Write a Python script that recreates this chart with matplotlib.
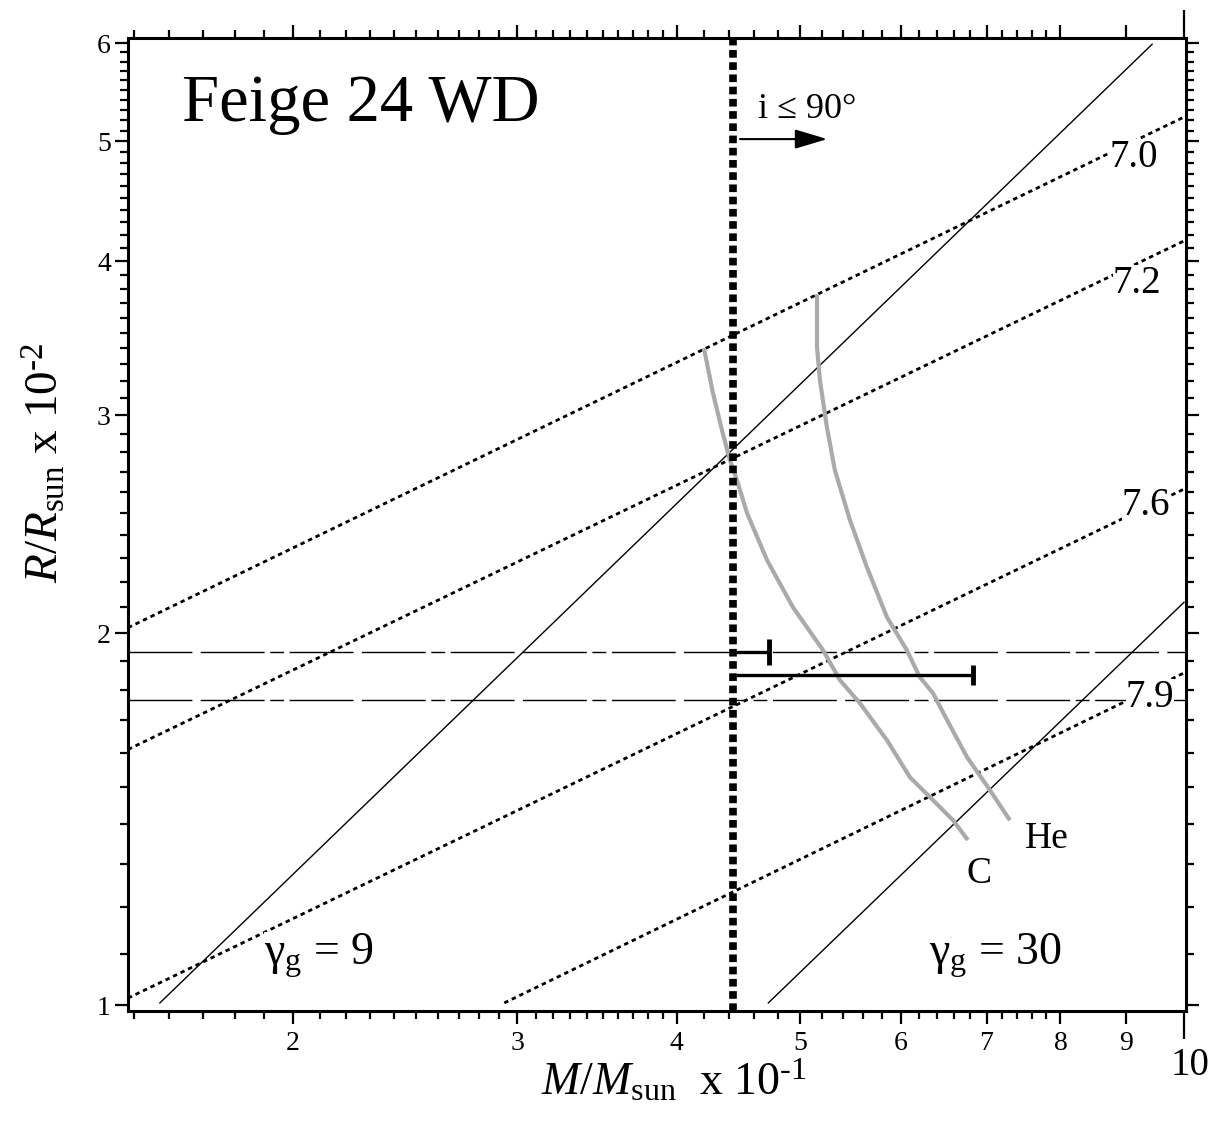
#!/usr/bin/env python3
import numpy as np
import matplotlib
matplotlib.use("Agg")
import matplotlib.pyplot as plt
from matplotlib.ticker import FixedLocator, NullFormatter

plt.rcParams["font.family"] = ["Liberation Serif", "DejaVu Serif"]
plt.rcParams["mathtext.fontset"] = "custom"
plt.rcParams["mathtext.rm"] = "Liberation Serif"
plt.rcParams["mathtext.it"] = "Liberation Serif:italic"

# axis ranges (M in 0.1 Msun, R in 0.01 Rsun)
m_lim = (1.485, 10.036)
r_lim = (0.989, 6.06)

x_major = [2, 3, 4, 5, 6, 7, 8, 9, 10]
x_major_labels = ["2", "3", "4", "5", "6", "7", "8", "9", ""]
x_minor = [1.5, 1.6, 1.7, 1.8, 1.9,
           2.1, 2.2, 2.3, 2.4, 2.5, 2.6, 2.7, 2.8, 2.9,
           3.1, 3.2, 3.3, 3.4, 3.5, 3.6, 3.7, 3.8, 3.9,
           4.2, 4.4, 4.6, 4.8, 5.2, 5.4, 5.6, 5.8,
           6.2, 6.4, 6.6, 6.8, 7.2, 7.4, 7.6, 7.8]
y_major = [1, 2, 3, 4, 5, 6]
y_minor = [round(v / 10, 1) for v in range(11, 61) if v % 10 != 0]

# gravitational redshift lines
gam9_m = [1.573, 9.44]
gam9_r = [1.004, 5.99]
gam30_m = [4.72, 10.0]
gam30_r = [1.004, 2.118]

# constant log g lines
logg_labels = ["7.0", "7.2", "7.6", "7.9"]
logg_m = [[1.485, 10.036], [1.485, 10.036], [1.485, 10.036], [2.93, 10.036]]
logg_r = [[2.02, 5.24], [1.61, 4.16], [1.013, 2.62], [1.004, 1.86]]

# radius limits and mass limit from inclination
r_band = [1.93, 1.765]
m_incl = 4.43

# mass error bars (start, end, R)
err_m0 = [4.43, 4.43]
err_m1 = [4.73, 6.83]
err_r = [1.93, 1.85]

# C and He mass-radius relations
c_m = [4.202, 4.271, 4.341, 4.404, 4.460, 4.542, 4.709, 4.934, 5.210,
       5.372, 5.569, 5.848, 6.095, 6.355, 6.589, 6.768]
c_r = [3.401, 3.127, 2.919, 2.760, 2.659, 2.501, 2.291, 2.099, 1.937,
       1.832, 1.755, 1.638, 1.529, 1.465, 1.411, 1.360]
he_m = [5.154, 5.154, 5.181, 5.247, 5.323, 5.470, 5.640, 5.848, 6.062,
        6.206, 6.355, 6.518, 6.758, 7.042, 7.302]
he_r = [3.760, 3.407, 3.204, 2.935, 2.709, 2.468, 2.261, 2.060, 1.937,
        1.842, 1.788, 1.701, 1.587, 1.493, 1.411]

fig = plt.figure(figsize=(12.14, 11.23), dpi=100)
ax = fig.add_axes([0.10544, 0.09973, 0.8715, 0.8664])
ax.set_xscale("log")
ax.set_yscale("log")
ax.set_xlim(*m_lim)
ax.set_ylim(*r_lim)

dot = (0, (1.6, 1.4))
for m, r in zip(logg_m, logg_r):
    ax.plot(m, r, color="k", lw=2.0, ls=dot)

ax.plot(gam9_m, gam9_r, color="k", lw=1.0)
ax.plot(gam30_m, gam30_r, color="k", lw=1.0)

for r in r_band:
    ax.axhline(r, color="k", lw=1.0, ls=(0, (46, 6, 46, 4, 10, 4)))

ax.plot(c_m, c_r, color="#aaaaaa", lw=3.0, solid_capstyle="butt")
ax.plot(he_m, he_r, color="#aaaaaa", lw=3.0, solid_capstyle="butt")

ax.axvline(m_incl, color="k", lw=5.5, ls=(0, (1, 0.6)), zorder=4)

cap_sizes = [19, 14]
for m0, m1, r, cs in zip(err_m0, err_m1, err_r, cap_sizes):
    ax.plot([m0, m1], [r, r], color="k", lw=2.4, zorder=4)
    ax.plot([m1], [r], marker="|", ms=cs, mew=3.5, color="k", zorder=4)

ax.annotate("", xy=(5.25, 5.02), xytext=(4.485, 5.02),
            arrowprops=dict(arrowstyle="-|>,head_length=1.0,head_width=0.3",
                            mutation_scale=20, lw=1.5, color="k",
                            shrinkA=0, shrinkB=0))

box = dict(fc="white", ec="none", pad=0)
ax.text(0.051, 0.9147, "Feige 24 WD", fontsize=48, transform=ax.transAxes)
ax.text(0.5955, 0.9178, "i ≤ 90°", fontsize=26, transform=ax.transAxes)
logg_pos = [(0.9509, 0.8674), (0.9537, 0.7379), (0.9622, 0.5098), (0.9660, 0.3124)]
for lab, (px, py) in zip(logg_labels, logg_pos):
    ax.text(px, py, lab, fontsize=28, ha="center", transform=ax.transAxes, bbox=box)
ax.text(0.8478, 0.1675, "He", fontsize=27, transform=ax.transAxes, bbox=box)
ax.text(0.7930, 0.1316, "C", fontsize=27, transform=ax.transAxes, bbox=box)
ax.text(0.1285, 0.0473, "γ$_{\\rm g}$ = 9", fontsize=33, transform=ax.transAxes, bbox=box)
ax.text(0.757, 0.0473, "γ$_{\\rm g}$ = 30", fontsize=33, transform=ax.transAxes, bbox=box)

# ticks
ax.xaxis.set_major_locator(FixedLocator(x_major))
ax.xaxis.set_minor_locator(FixedLocator(x_minor))
ax.set_xticklabels(x_major_labels)
ax.xaxis.set_minor_formatter(NullFormatter())
ax.yaxis.set_major_locator(FixedLocator(y_major))
ax.yaxis.set_minor_locator(FixedLocator(y_minor))
ax.set_yticklabels([str(v) for v in y_major])
ax.yaxis.set_minor_formatter(NullFormatter())
ax.tick_params(which="both", direction="out", top=True, right=True, width=1.6,
               labelsize=20)
ax.tick_params(which="major", length=9.4)
ax.tick_params(which="minor", length=5.8)
ax.tick_params(axis="x", pad=5)
ax.tick_params(axis="y", pad=3)
t10 = ax.xaxis.get_major_ticks()[-1]
t10.tick1line.set_markersize(20)
t10.tick2line.set_markersize(20)
for s in ax.spines.values():
    s.set_linewidth(2.2)

ax.annotate("10", xy=(10, 0), xycoords=("data", "axes fraction"),
            xytext=(4, -39), textcoords="offset points",
            fontsize=28, ha="center", va="center")

fig.text(0.555, 0.025, "$M/M_{\\rm sun}$  x 10$^{\\rm \u20101}$", fontsize=33,
         ha="center", va="baseline")
fig.text(0.037, 0.588, "$R/R_{\\rm sun}$ x 10$^{\\rm \u20102}$", fontsize=34,
         ha="center", va="center", rotation=90)

fig.savefig("out.png", dpi=100)
